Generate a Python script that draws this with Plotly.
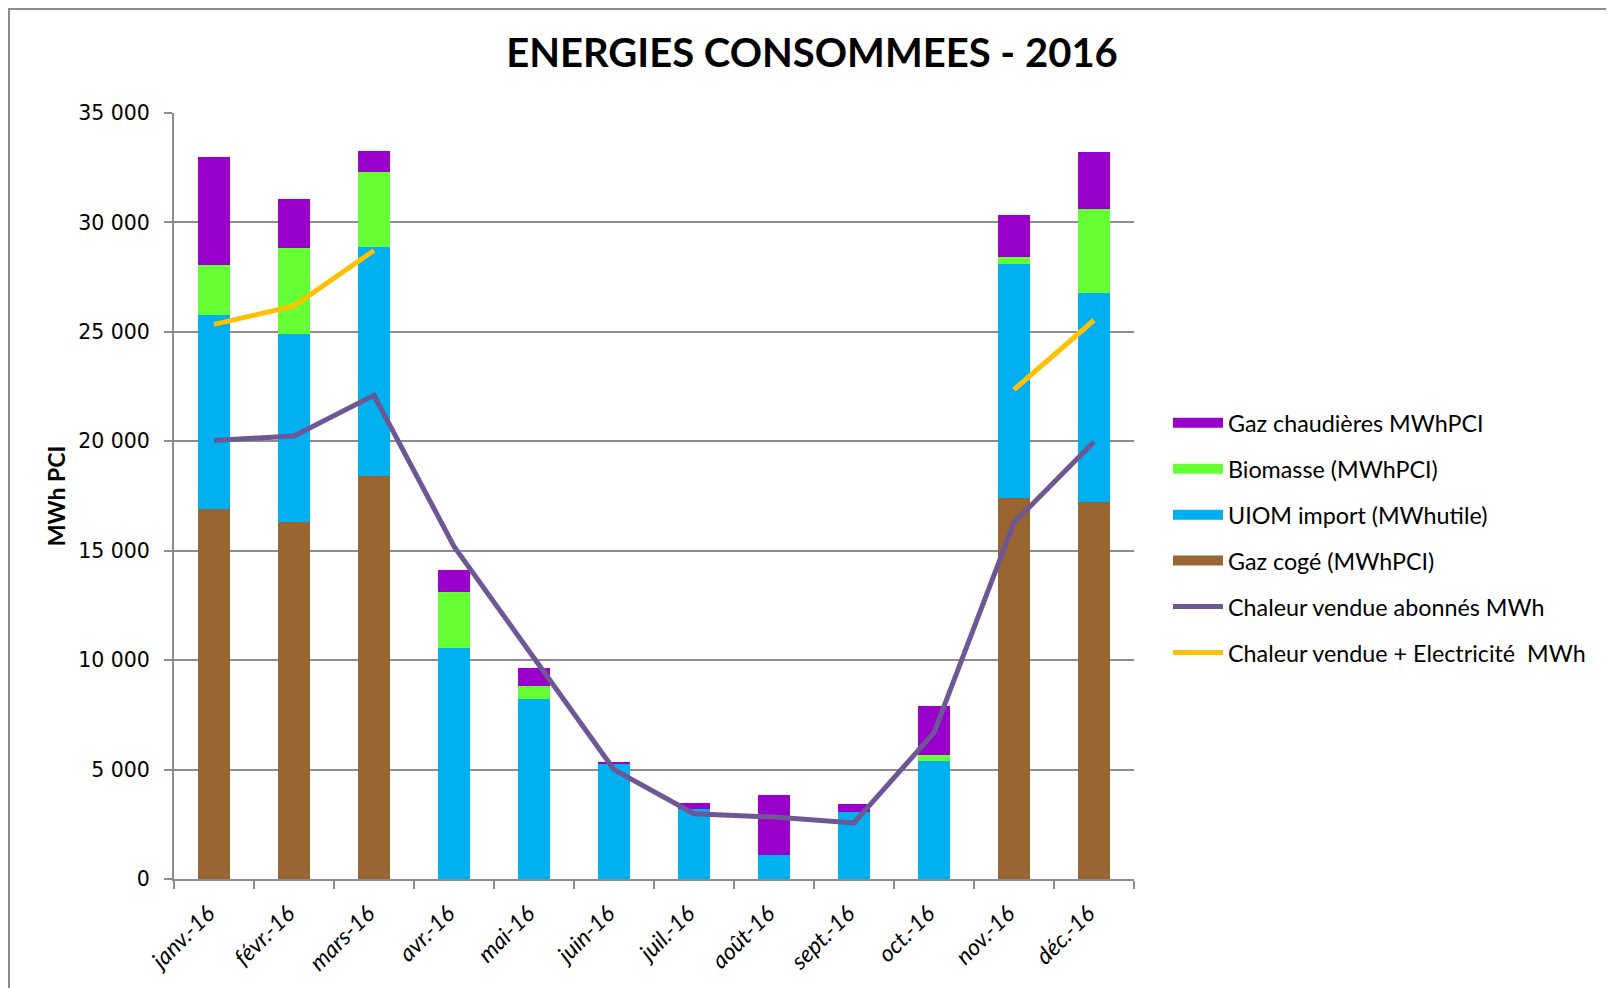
import plotly.graph_objects as go

months = ["janv.-16", "févr.-16", "mars-16", "avr.-16", "mai-16", "juin-16",
          "juil.-16", "août-16", "sept.-16", "oct.-16", "nov.-16", "déc.-16"]

gaz_coge = [16890, 16330, 18400, 0, 0, 0, 0, 0, 0, 0, 17410, 17210]
uiom = [8900, 8560, 10490, 10540, 8230, 5300, 3210, 1080, 3070, 5410, 10690, 9580]
biomasse = [2250, 3940, 3400, 2590, 570, 0, 0, 0, 0, 270, 330, 3820]
gaz_chaud = [4950, 2240, 960, 980, 840, 60, 280, 2740, 340, 2240, 1920, 2600]
chaleur_abonnes = [20040, 20240, 22100, 15200, 10100, 5000, 2980, 2830, 2560, 6690, 16280, 19980]
chaleur_elec = [25340, 26180, 28720, None, None, None, None, None, None, None, 22360, 25530]

C_COGE = "#996633"
C_UIOM = "#00B0F0"
C_BIO = "#66FF33"
C_CHAUD = "#9900CC"
C_PURPLE = "#6E5794"
C_ORANGE = "#FFC000"

fig = go.Figure()
for name, vals, col in [("Gaz cogé (MWhPCI)", gaz_coge, C_COGE),
                        ("UIOM import (MWhutile)", uiom, C_UIOM),
                        ("Biomasse (MWhPCI)", biomasse, C_BIO),
                        ("Gaz chaudières MWhPCI", gaz_chaud, C_CHAUD)]:
    fig.add_trace(go.Bar(x=months, y=vals, name=name, marker=dict(color=col, line=dict(width=0)),
                         showlegend=False))

fig.add_trace(go.Scatter(x=months, y=chaleur_abonnes, mode="lines", showlegend=False,
                         name="Chaleur vendue abonnés MWh",
                         line=dict(color=C_PURPLE, width=5)))
fig.add_trace(go.Scatter(x=months, y=chaleur_elec, mode="lines", showlegend=False,
                         name="Chaleur vendue + Electricité  MWh",
                         line=dict(color=C_ORANGE, width=5), connectgaps=False))

# legend entries
legend_items = [("Gaz chaudières MWhPCI", C_CHAUD, 14),
                ("Biomasse (MWhPCI)", C_BIO, 14),
                ("UIOM import (MWhutile)", C_UIOM, 14),
                ("Gaz cogé (MWhPCI)", C_COGE, 14),
                ("Chaleur vendue abonnés MWh", C_PURPLE, 5),
                ("Chaleur vendue + Electricité  MWh", C_ORANGE, 5)]
for i, (name, col, w) in enumerate(legend_items):
    fig.add_trace(go.Scatter(x=[None], y=[None], mode="lines", name=name,
                             line=dict(color=col, width=w), legendgroup="g%d" % i,
                             legendrank=i + 1, hoverinfo="skip"))

# page has an 8px body margin; figure coords = page coords - 8
W, H = 1606, 980
L, T = 166, 105
R = W - 1126
B = H - 871
pw, ph = W - L - R, H - T - B

fig.update_layout(
    width=W, height=H,
    margin=dict(l=L, r=R, t=T, b=B, pad=0),
    paper_bgcolor="white", plot_bgcolor="white",
    barmode="stack", bargap=0.6,
    separators=", ",
    title=dict(text="<b>ENERGIES CONSOMMEES - 2016</b>", x=804 / W, xanchor="center",
               y=1 - 45 / H, yanchor="middle",
               font=dict(family="Lato", size=40, color="black")),
    legend=dict(x=(1160 - L) / pw, xanchor="left", y=(H - B - 393) / ph, yanchor="top",
                traceorder="grouped", tracegroupgap=12.7, itemwidth=50,
                font=dict(family="Lato", size=23.3, color="black"),
                bgcolor="rgba(0,0,0,0)"),
    xaxis=dict(type="category", tickson="boundaries", ticks="outside", ticklen=8,
               tickcolor="#8c8c8c", tickwidth=2, showline=True, linecolor="#8c8c8c",
               linewidth=2, tickangle=-45, showgrid=False, ticklabelstandoff=10,
               ticklabelshift=-6,
               tickfont=dict(family="Lato", size=23, color="black", style="italic")),
    yaxis=dict(range=[0, 35000], dtick=5000, tickformat=",d", ticks="outside", ticklen=8,
               tickcolor="#8c8c8c", tickwidth=2, showline=True, linecolor="#8c8c8c",
               linewidth=2, showgrid=True, gridcolor="#8c8c8c", gridwidth=2,
               zeroline=False, ticklabelstandoff=10,
               tickfont=dict(family="DejaVu Sans", size=20.5, color="black"),
               title=dict(text="<b>MWh PCI</b>", standoff=6,
                          font=dict(family="Lato", size=23, color="black"))),
    shapes=[dict(type="rect", xref="paper", yref="paper",
                 x0=(1 - L) / pw, x1=(W + 20 - L) / pw,
                 y0=(H - B - (H + 20)) / ph, y1=(H - B - 1) / ph,
                 line=dict(color="#8c8c8c", width=2), fillcolor="rgba(0,0,0,0)", layer="below")],
)

fig.write_html("out.html")
